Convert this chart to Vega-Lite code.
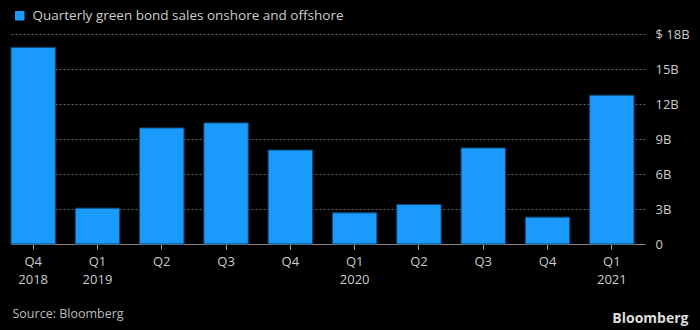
{
  "$schema": "https://vega.github.io/schema/vega-lite/v6.json",
  "width": 634,
  "height": 210,
  "autosize": {"type": "none"},
  "padding": {"left": 11, "top": 34, "right": 55, "bottom": 86},
  "background": "#000000",
  "config": {
    "view": {"stroke": null},
    "font": "Open Sans"
  },
  "data": {
    "values": [
      {"period": "Q4 2018", "value": 16.85, "series": "Quarterly green bond sales onshore and offshore"},
      {"period": "Q1 2019", "value": 3.07, "series": "Quarterly green bond sales onshore and offshore"},
      {"period": "Q2 2019", "value": 9.95, "series": "Quarterly green bond sales onshore and offshore"},
      {"period": "Q3 2019", "value": 10.38, "series": "Quarterly green bond sales onshore and offshore"},
      {"period": "Q4 2019", "value": 8.05, "series": "Quarterly green bond sales onshore and offshore"},
      {"period": "Q1 2020", "value": 2.67, "series": "Quarterly green bond sales onshore and offshore"},
      {"period": "Q2 2020", "value": 3.38, "series": "Quarterly green bond sales onshore and offshore"},
      {"period": "Q3 2020", "value": 8.23, "series": "Quarterly green bond sales onshore and offshore"},
      {"period": "Q4 2020", "value": 2.3, "series": "Quarterly green bond sales onshore and offshore"},
      {"period": "Q1 2021", "value": 12.75, "series": "Quarterly green bond sales onshore and offshore"}
    ]
  },
  "mark": {"type": "bar", "stroke": "#0b4a7a", "strokeWidth": 1},
  "encoding": {
    "x": {
      "field": "period",
      "type": "nominal",
      "sort": null,
      "scale": {"paddingInner": 0.31, "paddingOuter": 0.0855, "align": 0},
      "axis": {
        "title": "Source: Bloomberg",
        "titleAnchor": "start",
        "titleAlign": "left",
        "titleX": 1,
        "titleY": 69,
        "titleBaseline": "middle",
        "titleColor": "#bbbbbb",
        "titleFont": "Open Sans",
        "titleFontSize": 12.5,
        "titleFontWeight": "normal",
        "labelAngle": 0,
        "labelColor": "#cccccc",
        "labelFontSize": 13,
        "labelPadding": 6,
        "labelLineHeight": 18,
        "labelBaseline": "top",
        "labelExpr": "(indexof(datum.value, 'Q1') == 0 || datum.value == 'Q4 2018') ? split(datum.value, ' ') : split(datum.value, ' ')[0]",
        "domainColor": "#888888",
        "tickColor": "#aaaaaa",
        "tickSize": 5,
        "grid": false
      }
    },
    "y": {
      "field": "value",
      "type": "quantitative",
      "scale": {"domain": [0, 18], "nice": false},
      "axis": {
        "orient": "right",
        "values": [0, 3, 6, 9, 12, 15, 18],
        "labelExpr": "datum.value == 18 ? '$ 18B' : datum.value == 0 ? '0' : datum.value + 'B'",
        "labelColor": "#cccccc",
        "labelFontSize": 13,
        "labelPadding": 10,
        "ticks": false,
        "domain": false,
        "grid": true,
        "gridColor": "#666666",
        "gridDash": [2, 2],
        "gridWidth": 1,
        "title": "Bloomberg",
        "titleAngle": 0,
        "titleX": 43,
        "titleY": 284,
        "titleAlign": "right",
        "titleBaseline": "middle",
        "titleColor": "#dddddd",
        "titleFont": "Open Sans",
        "titleFontSize": 14,
        "titleFontWeight": "bold"
      }
    },
    "color": {
      "field": "series",
      "type": "nominal",
      "scale": {"range": ["#1a9bfc"]},
      "legend": {
        "title": null,
        "orient": "none",
        "legendX": 2,
        "legendY": -25,
        "padding": 0,
        "symbolType": "square",
        "symbolSize": 90,
        "symbolStrokeWidth": 0,
        "labelColor": "#cccccc",
        "labelFontSize": 13.5,
        "labelOffset": 6,
        "labelLimit": 500
      }
    }
  }
}
